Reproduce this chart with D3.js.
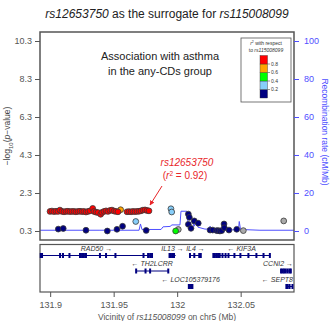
<!DOCTYPE html>
<html>
<head>
<meta charset="utf-8">
<script src="https://cdn.jsdelivr.net/npm/d3@7"></script>
<style>
  body { margin: 0; background: #fff; }
  svg { font-family: "Liberation Sans", Arial, sans-serif; }
</style>
</head>
<body>
<div id="chart"></div>
<script>
// ---- data ----
const snpPos = [
  131.8999, 131.9014, 131.9030, 131.9046, 131.9062, 131.9077, 131.9093, 131.9109, 131.9125, 131.9140,
  131.9156, 131.9172, 131.9188, 131.9203, 131.9219, 131.9235, 131.9251, 131.9266, 131.9282, 131.9298,
  131.9314, 131.9335, 131.9345, 131.9361, 131.9377, 131.9398, 131.9408, 131.9424, 131.9440, 131.9455,
  131.9471, 131.9487, 131.9503, 131.9518, 131.9534, 131.9555,
  131.9605, 131.9621, 131.9637, 131.9652, 131.9668, 131.9684, 131.9700, 131.9715, 131.9731, 131.9747,
  131.9763, 131.9778,
  131.9064, 131.9103, 131.9282, 131.9450, 131.9526, 131.9570, 131.9674, 131.9756, 131.9951, 131.9957,
  131.9988, 132.0009, 132.0088, 132.0096, 132.0135, 132.0166, 132.0088, 132.0109, 132.0259, 132.0280,
  132.0311, 132.0324, 132.0337, 132.0351, 132.0369, 132.0371, 132.0408, 132.0469, 132.0521, 132.0839
];
const snpLogP = [
  1.33, 1.35, 1.32, 1.34, 1.33, 1.40, 1.33, 1.31, 1.33, 1.34,
  1.32, 1.33, 1.33, 1.31, 1.33, 1.34, 1.32, 1.33, 1.30, 1.33,
  1.36, 1.49, 1.33, 1.29, 1.27, 1.18, 1.28, 1.33, 1.36, 1.33,
  1.38, 1.40, 1.35, 1.33, 1.31, 1.42,
  1.31, 1.32, 1.31, 1.33, 1.32, 1.33, 1.34, 1.36, 1.40, 1.41,
  1.38, 1.36,
  0.40, 0.43, 0.34, 0.30, 0.39, 0.55, 0.80, 0.33, 1.47, 1.30,
  0.30, 0.38, 1.19, 1.02, 0.83, 0.71, 0.65, 0.44, 0.35, 0.35,
  0.32, 0.32, 0.30, 0.32, 0.67, 0.47, 0.35, 0.39, 0.32, 0.83
];
const snpR2 = [
  0.9, 0.9, 0.9, 0.9, 0.9, 0.9, 0.9, 0.9, 0.9, 0.9,
  0.9, 0.9, 0.9, 0.9, 0.9, 0.9, 0.9, 0.9, 0.9, 0.9,
  0.9, 0.9, 0.9, 0.9, 0.9, 0.9, 0.9, 0.9, 0.9, 0.9,
  0.9, 0.9, 0.9, 0.9, 0.9, 0.7,
  0.9, 0.9, 0.9, 0.9, 0.9, 0.9, 0.9, 0.9, 0.9, 0.9,
  0.9, 0.92,
  0.1, 0.1, 0.1, 0.1, 0.1, 0.1, 0.3, 0.1, 0.3, 0.3,
  0.5, null, 0.1, 0.1, 0.1, 0.1, 0.1, 0.1, 0.1, 0.1,
  0.1, 0.1, 0.1, 0.1, 0.1, 0.1, 0.1, 0.1, null, null
];

const recombPos = [131.892, 131.9392, 131.970, 131.9711, 131.9723, 131.9873, 131.9889, 131.9944, 131.9959,
  132.0022, 132.0030, 132.0077, 132.0085, 132.0101, 132.0117, 132.0133, 132.0148, 132.0164, 132.0219,
  132.0251, 132.0259, 132.0274, 132.0483, 132.0489, 132.0499, 132.0652, 132.092];
const recombRate = [0.4, 0.4, 0.4, 3.7, 0.8, 0.8, 2.2, 2.4, 3.2,
  3.2, 10.4, 10.4, 4.5, 4.0, 5.5, 2.5, 4.8, 2.0, 1.0,
  1.0, 2.5, 0.6, 0.6, 5.0, 0.8, 0.4, 0.4];

const geneNames = ['RAD50', 'IL13', 'IL4', 'KIF3A', 'TH2LCRR', 'CCNI2', 'LOC105379176', 'SEPT8'];
const geneStart = [131.8926, 131.9939, 132.0101, 132.0283, 131.9676, 132.0816, 132.0091, 132.0859];
const geneEnd = [131.9803, 131.9988, 132.0188, 132.0733, 131.9931, 132.0896, 132.0122, 132.0910];
const geneStrand = ['+', '+', '+', '-', '-', '+', '-', '-'];
const geneRow = [0, 0, 0, 0, 1, 1, 2, 2];
const geneExons = [
  [131.8926, 131.8936, 131.9078, 131.9101, 131.9152, 131.9235, 131.9251, 131.9266, 131.9282, 131.9392,
   131.9440, 131.9514, 131.9735, 131.9771, 131.9787, 131.9802],
  [131.9940, 131.9948, 131.9960, 131.9975],
  [132.0101, 132.0135, 132.0174, 132.0186],
  [132.0285, 132.0297, 132.0310, 132.0322, 132.0335, 132.0357, 132.0381, 132.0404, 132.0451, 132.0498,
   132.0561, 132.0624, 132.0680, 132.0730],
  [131.9677, 131.9751, 131.9787, 131.9930],
  [132.0818, 132.0830, 132.0842, 132.0855, 132.0870, 132.0885, 132.0895],
  [132.0092, 132.0100, 132.0110, 132.0120],
  [132.0860, 132.0870, 132.0885, 132.0908]
];

const xTicks = [131.9, 131.95, 132, 132.05];
const yTicks = [0.3, 2.3, 4.3, 6.3, 8.3, 10.3];
const recombTicks = [0, 20, 40, 60, 80, 100];
const ldBreaks = [0.2, 0.4, 0.6, 0.8];
const ldColors = ['#000080', '#87cefa', '#00ff00', '#ffa500', '#ff0000'];

// ---- layout ----
const W = 330, H = 321;
const pLeft = 40, pRight = 294, pTop = 32, pBottom = 240;
const geneTop = 244.5, geneBottom = 292;
const blue = '#4f4fff';

const svg = d3.select('#chart').append('svg').attr('width', W).attr('height', H);
svg.append('rect').attr('width', W).attr('height', H).attr('fill', '#fff');

const x = d3.scaleLinear().domain([131.892, 132.092]).range([pLeft, pRight]);
const y = d3.scaleLinear().domain([-0.174, 10.774]).range([pBottom, pTop]);
const yR = d3.scaleLinear().domain([-4.74, 104.74]).range([pBottom, pTop]);
const ldColor = d3.scaleThreshold().domain(ldBreaks).range(ldColors);

// title
const title = svg.append('text').attr('x', 167).attr('y', 18).attr('text-anchor', 'middle')
  .style('font-size', '12px').attr('fill', '#222');
title.append('tspan').style('font-style', 'italic').text('rs12653750');
title.append('tspan').text(' as the surrogate for ');
title.append('tspan').style('font-style', 'italic').text('rs115008099');

svg.append('defs').append('clipPath').attr('id', 'clip')
  .append('rect').attr('x', pLeft).attr('y', pTop).attr('width', pRight - pLeft).attr('height', pBottom - pTop);

// recombination line
svg.append('path')
  .datum(recombPos.map((p, i) => [p, recombRate[i]]))
  .attr('clip-path', 'url(#clip)')
  .attr('fill', 'none').attr('stroke', blue).attr('stroke-width', 1)
  .attr('d', d3.line().x(d => x(d[0])).y(d => yR(d[1])));

// points
const pts = snpPos.map((p, i) => ({ p, v: snpLogP[i], r2: snpR2[i] }))
  .sort((a, b) => (a.r2 === null ? -1 : a.r2) - (b.r2 === null ? -1 : b.r2));
svg.append('g').attr('clip-path', 'url(#clip)')
  .selectAll('circle').data(pts).enter().append('circle')
  .attr('cx', d => x(d.p)).attr('cy', d => y(d.v)).attr('r', 2.9)
  .attr('fill', d => d.r2 === null ? '#aaaaaa' : ldColor(d.r2))
  .attr('stroke', '#3a3a3a').attr('stroke-width', 0.8);

// frame
svg.append('rect').attr('x', pLeft).attr('y', pTop).attr('width', pRight - pLeft).attr('height', pBottom - pTop)
  .attr('fill', 'none').attr('stroke', '#555').attr('stroke-width', 1.5);

// left axis
const gy = svg.append('g').attr('transform', `translate(${pLeft},0)`)
  .call(d3.axisLeft(y).tickValues(yTicks).tickSize(5).tickPadding(3).tickFormat(d3.format('.1f')));
gy.select('.domain').remove();
gy.selectAll('line').attr('stroke', '#555');
gy.selectAll('text').attr('fill', '#555').style('font-size', '9px').style('font-family', 'Liberation Sans, Arial, sans-serif');

// right axis
const gr = svg.append('g').attr('transform', `translate(${pRight},0)`)
  .call(d3.axisRight(yR).tickValues(recombTicks).tickSize(5).tickPadding(5));
gr.select('.domain').remove();
gr.selectAll('line').attr('stroke', blue);
gr.selectAll('text').attr('fill', blue).style('font-size', '9px').style('font-family', 'Liberation Sans, Arial, sans-serif');

// axis titles
const yl = svg.append('text').attr('transform', 'translate(10,136) rotate(-90)')
  .attr('text-anchor', 'middle').attr('fill', '#444').style('font-size', '8.5px');
yl.append('tspan').text('\u2212log');
yl.append('tspan').attr('baseline-shift', 'sub').style('font-size', '6px').text('10');
yl.append('tspan').text('(');
yl.append('tspan').style('font-style', 'italic').text('p');
yl.append('tspan').text('\u2212value)');

svg.append('text').attr('transform', 'translate(322,132) rotate(90)')
  .attr('text-anchor', 'middle').attr('fill', blue).style('font-size', '8.5px')
  .text('Recombination rate (cM/Mb)');

// annotation
svg.append('text').attr('x', 160).attr('y', 60).attr('text-anchor', 'middle')
  .attr('fill', '#222').style('font-size', '11px').text('Association with asthma');
svg.append('text').attr('x', 160).attr('y', 75).attr('text-anchor', 'middle')
  .attr('fill', '#222').style('font-size', '11px').text('in the any-CDs group');

// index SNP label
const red = '#e8262a';
svg.append('text').attr('x', 187).attr('y', 166).attr('text-anchor', 'middle')
  .attr('fill', red).style('font-size', '10px').style('font-style', 'italic').text('rs12653750');
const rl = svg.append('text').attr('x', 185).attr('y', 179).attr('text-anchor', 'middle')
  .attr('fill', red).style('font-size', '10px');
rl.append('tspan').text('(');
rl.append('tspan').style('font-style', 'italic').text('r');
rl.append('tspan').attr('baseline-shift', 'super').style('font-size', '6.5px').text('2');
rl.append('tspan').text(' = 0.92)');
svg.append('defs').append('marker').attr('id', 'arr').attr('viewBox', '0 0 10 10')
  .attr('refX', 9).attr('refY', 5).attr('markerWidth', 5).attr('markerHeight', 5).attr('orient', 'auto')
  .append('path').attr('d', 'M0,0L10,5L0,10z').attr('fill', red);
svg.append('line').attr('x1', 162).attr('y1', 186).attr('x2', 150).attr('y2', 205)
  .attr('stroke', red).attr('stroke-width', 1).attr('marker-end', 'url(#arr)');

// legend
const lg = svg.append('g');
lg.append('rect').attr('x', 241).attr('y', 38).attr('width', 50).attr('height', 64)
  .attr('fill', '#fff').attr('stroke', '#555').attr('stroke-width', 0.8);
const lt = lg.append('text').attr('x', 266).attr('y', 45).attr('text-anchor', 'middle')
  .attr('fill', '#333').style('font-size', '5px');
lt.append('tspan').style('font-style', 'italic').text('r');
lt.append('tspan').attr('baseline-shift', 'super').style('font-size', '3.5px').text('2');
lt.append('tspan').text(' with respect');
const lt2 = lg.append('text').attr('x', 266).attr('y', 51.5).attr('text-anchor', 'middle')
  .attr('fill', '#333').style('font-size', '5px');
lt2.append('tspan').text('to ');
lt2.append('tspan').style('font-style', 'italic').text('rs115008099');
const ly = d3.scaleLinear().domain([0, 1]).range([98, 55.5]);
lg.selectAll('.lb').data(ldColors).enter().append('rect')
  .attr('x', 260).attr('width', 7.5)
  .attr('y', (d, i) => ly((i + 1) / 5)).attr('height', (d, i) => ly(i / 5) - ly((i + 1) / 5))
  .attr('fill', d => d).attr('stroke', '#333').attr('stroke-width', 0.4);
lg.selectAll('.lt').data(ldBreaks).enter().append('line')
  .attr('x1', 267.5).attr('x2', 270).attr('y1', d => ly(d)).attr('y2', d => ly(d)).attr('stroke', '#333').attr('stroke-width', 0.5);
lg.selectAll('.ll').data(ldBreaks).enter().append('text')
  .attr('x', 271).attr('y', d => ly(d) + 1.8).attr('fill', '#333').style('font-size', '5px')
  .text(d => d3.format('.1f')(d));

// gene panel
svg.append('rect').attr('x', pLeft).attr('y', geneTop).attr('width', pRight - pLeft).attr('height', geneBottom - geneTop)
  .attr('fill', 'none').attr('stroke', '#555').attr('stroke-width', 1.2);
const rowLine = r => 255.5 + r * 15.5;
const gg = svg.append('g');
geneNames.forEach((name, i) => {
  const yl0 = rowLine(geneRow[i]);
  const x0 = Math.max(pLeft, x(geneStart[i])), x1 = Math.min(pRight, x(geneEnd[i]));
  gg.append('line').attr('x1', x0).attr('x2', x1).attr('y1', yl0).attr('y2', yl0)
    .attr('stroke', '#000080').attr('stroke-width', 1);
  gg.selectAll(null).data(geneExons[i].filter(e => x(e) <= pRight)).enter().append('rect')
    .attr('x', e => x(e) - 1).attr('y', yl0 - 2.5).attr('width', 2).attr('height', 5).attr('fill', '#000080');
  const t = gg.append('text').attr('y', yl0 - 5).attr('fill', '#333').style('font-size', '7px');
  if (geneStrand[i] === '+') {
    t.append('tspan').style('font-style', 'italic').text(name);
    t.append('tspan').text(' \u2192');
  } else {
    t.append('tspan').text('\u2190 ');
    t.append('tspan').style('font-style', 'italic').text(name);
  }
  const w = t.node().getComputedTextLength();
  let cx = (x0 + x1) / 2 - w / 2;
  cx = Math.min(cx, pRight - 1 - w);
  cx = Math.max(cx, pLeft + 1);
  t.attr('x', cx);
});

// bottom axis
const gx = svg.append('g').attr('transform', `translate(0,${geneBottom})`)
  .call(d3.axisBottom(x).tickValues(xTicks).tickSize(5).tickPadding(5).tickFormat(d => String(d)));
gx.select('.domain').remove();
gx.selectAll('line').attr('stroke', '#555');
gx.selectAll('text').attr('fill', '#555').style('font-size', '9px').style('font-family', 'Liberation Sans, Arial, sans-serif');

const xl = svg.append('text').attr('x', 167).attr('y', 320).attr('text-anchor', 'middle')
  .attr('fill', '#555').style('font-size', '8.5px');
xl.append('tspan').text('Vicinity of ');
xl.append('tspan').style('font-style', 'italic').text('rs115008099');
xl.append('tspan').text(' on chr5 (Mb)');
</script>
</body>
</html>
